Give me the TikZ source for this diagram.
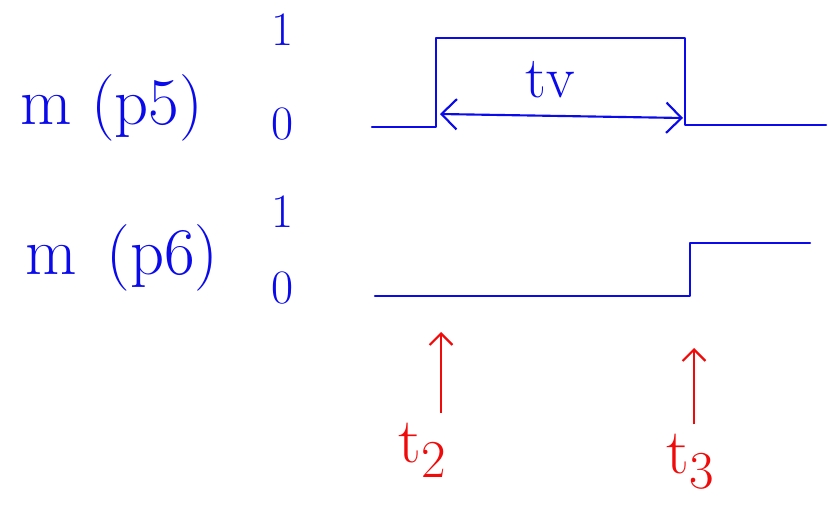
\documentclass[tikz,border=0pt]{standalone}
\usepackage{tikz}
\usetikzlibrary{arrows.meta, positioning}
\definecolor{sigblue}{RGB}{10,10,235}
\definecolor{markred}{RGB}{240,10,10}
\tikzset{
  sig/.style={draw=sigblue, line width=1.6pt, line join=round, line cap=round},
  sname/.style={font=\fontsize{50}{54}\selectfont, text=sigblue, inner sep=0pt},
  lvl/.style={font=\fontsize{36}{40}\selectfont, text=sigblue, inner sep=0pt},
  dur/.style={<->, >={Straight Barb[length=4mm]}, line width=1.6pt, sigblue},
  tarrow/.style={->, >={Straight Barb[length=3mm]}, line width=1.6pt, markred},
  tlbl/.style={font=\fontsize{48}{52}\selectfont, text=markred, inner sep=0pt}
}
\newcommand{\tsub}[1]{t\raisebox{-11pt}{\fontsize{40}{44}\selectfont #1}}
\begin{document}
\begin{tikzpicture}[x=0.75pt, y=-0.75pt]
  \useasboundingbox (0,0) rectangle (828,510);
  % signal names and levels
  \node[sname] (p5) at (112,108) {m\hspace{14pt}(p5)};
  \node[sname] (p6) at (122,258) {m\hspace{22pt}(p6)};
  \node[lvl] (hi1) at (283,30) {1};
  \node[lvl] (lo1) at (283,124) {0};
  \node[lvl] (hi2) at (283,212) {1};
  \node[lvl] (lo2) at (283,288) {0};
  % waveforms
  \draw[sig] (372,127) -- (436,127) -- (436,38) -- (685,38) -- (685,125) -- (826,125);
  \draw[sig] (375,296) -- (690,296) -- (690,243) -- (810,243);
  % valid time
  \coordinate (tvL) at (440,114);
  \coordinate (tvR) at (683,118);
  \draw[dur] (tvL) -- (tvR);
  \node[lvl, font=\fontsize{44}{48}\selectfont] (tv) at (550,80) {tv};
  % time markers
  \node[tlbl] (t2) at (422,450) {\tsub{2}};
  \node[tlbl] (t3) at (690,462) {\tsub{3}};
  \coordinate (t2top) at (441,332);
  \coordinate (t3top) at (694,348);
  \draw[tarrow] (t2.north -| t2top) ++(0,-10) -- (t2top);
  \draw[tarrow] (t3.north -| t3top) ++(0,-10) -- (t3top);
\end{tikzpicture}
\end{document}
